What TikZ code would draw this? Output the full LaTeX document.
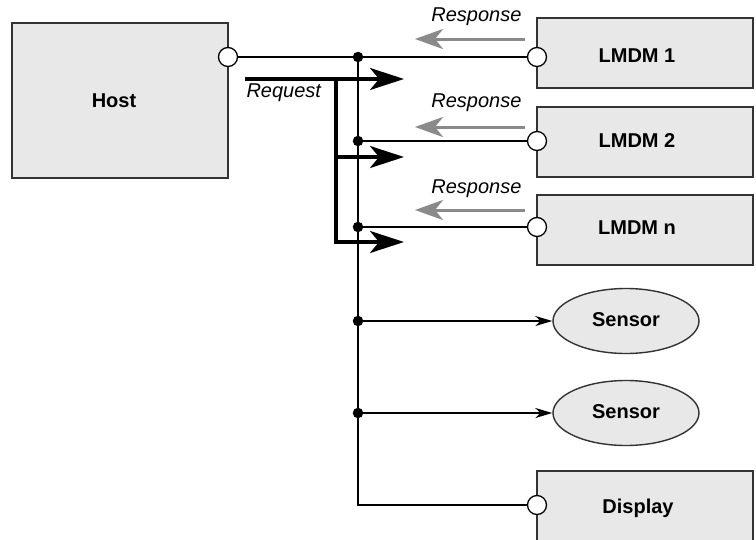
\documentclass[tikz,border=0pt]{standalone}
\usepackage{fontspec}
\setmainfont{Liberation Sans}
\usetikzlibrary{arrows.meta,shapes.geometric}
\definecolor{boxfill}{HTML}{E8E8E8}
\definecolor{respgray}{HTML}{8A8A8A}
\begin{document}
\begin{tikzpicture}[x=1pt,y=-1pt,
  box/.style={draw=black!80,line width=1.4pt,fill=boxfill,rectangle,inner sep=0pt},
  port/.style={circle,draw=black,line width=1.3pt,fill=white,minimum size=19pt,inner sep=0pt},
  jdot/.style={circle,fill=black,minimum size=10.5pt,inner sep=0pt},
  sens/.style={ellipse,draw=black!80,line width=1.4pt,fill=boxfill,minimum width=146pt,minimum height=65pt,inner sep=0pt},
  lbl/.style={font=\fontsize{20}{24}\selectfont\bfseries},
  itl/.style={font=\fontsize{20}{24}\selectfont\itshape},
  wire/.style={line width=1.6pt},
  req/.style={line width=3.2pt,-{Stealth[length=34pt,width=22pt,inset=9pt]}},
  reqline/.style={line width=3.2pt},
  resp/.style={line width=3pt,respgray,-{Stealth[length=28pt,width=20pt,inset=8pt]}},
  sarrow/.style={line width=1.6pt,-{Stealth[length=17pt,width=10pt,inset=5pt]}}
]
\clip (0,0) rectangle (756,539);
\fill[white] (0,0) rectangle (756,539);

% boxes
\node[box,minimum width=216pt,minimum height=155pt] (host) at (120,100.5) {};
\node[lbl] (hostt) at (114,101) {Host};
\node[box,minimum width=216pt,minimum height=70pt] (l1) at (645,53) {};
\node[lbl] (l1t) at (637,56) {LMDM 1};
\node[box,minimum width=216pt,minimum height=70pt] (l2) at (645,142) {};
\node[lbl] (l2t) at (637,141) {LMDM 2};
\node[box,minimum width=216pt,minimum height=70pt] (ln) at (645,230) {};
\node[lbl] (lnt) at (637,228) {LMDM n};
\node[box,minimum width=216pt,minimum height=80pt] (disp) at (645,511) {};
\node[lbl] (dispt) at (638,508) {Display};
\node[sens] (s1) at (626,321) {};
\node[lbl] (s1t) at (626,320) {Sensor};
\node[sens] (s2) at (626,413) {};
\node[lbl] (s2t) at (626,412) {Sensor};

% junctions
\coordinate (d1) at (358,57);
\coordinate (d2) at (358,141);
\coordinate (d3) at (358,227);
\coordinate (d4) at (358,321);
\coordinate (d5) at (358,413);
\coordinate (bend) at (358,505);

% port positions
\coordinate (hp) at (228,57);
\coordinate (p1) at (537,57);
\coordinate (p2) at (537,141);
\coordinate (pn) at (537,227);
\coordinate (pd) at (537,505);

% wires
\draw[wire] (hp) -- (d1) -- (p1);
\draw[wire] (d2) -- (p2);
\draw[wire] (d3) -- (pn);
\draw[wire] (d1) -- (bend) -- (pd);
\draw[sarrow] (d4) -- (s1.west);
\draw[sarrow] (d5) -- (s2.west);

% request arrows
\coordinate (rq0) at (245,79);
\coordinate (rqb) at (336,79);
\coordinate (rqm) at (336,157);
\coordinate (rqn) at (336,242);
\coordinate (rqe1) at (404,79);
\coordinate (rqe2) at (404,157);
\coordinate (rqe3) at (404,242);
\draw[req] (rq0) -- (rqe1);
\draw[reqline] (rqb) -- (rqn);
\draw[req] (rqm) -- (rqe2);
\draw[req] ([xshift=-1.6pt]rqn) -- (rqe3);
\node[itl,anchor=west] (reqt) at (243,93) {Request};

% response arrows
\coordinate (ra1) at (525,39);
\coordinate (rb1) at (415,39);
\coordinate (ra2) at (525,127);
\coordinate (rb2) at (415,127);
\coordinate (ra3) at (525,210);
\coordinate (rb3) at (415,210);
\draw[resp] (ra1) -- (rb1);
\draw[resp] (ra2) -- (rb2);
\draw[resp] (ra3) -- (rb3);
\node[itl,anchor=east] (rt1) at (525,17) {Response};
\node[itl,anchor=east] (rt2) at (525,103) {Response};
\node[itl,anchor=east] (rt3) at (525,189) {Response};

% ports and dots on top
\node[port] (hostport) at (hp) {};
\node[port] (port1) at (p1) {};
\node[port] (port2) at (p2) {};
\node[port] (portn) at (pn) {};
\node[port] (portd) at (pd) {};
\foreach \d in {d1,d2,d3,d4,d5} \node[jdot] at (\d) {};
\end{tikzpicture}
\end{document}
